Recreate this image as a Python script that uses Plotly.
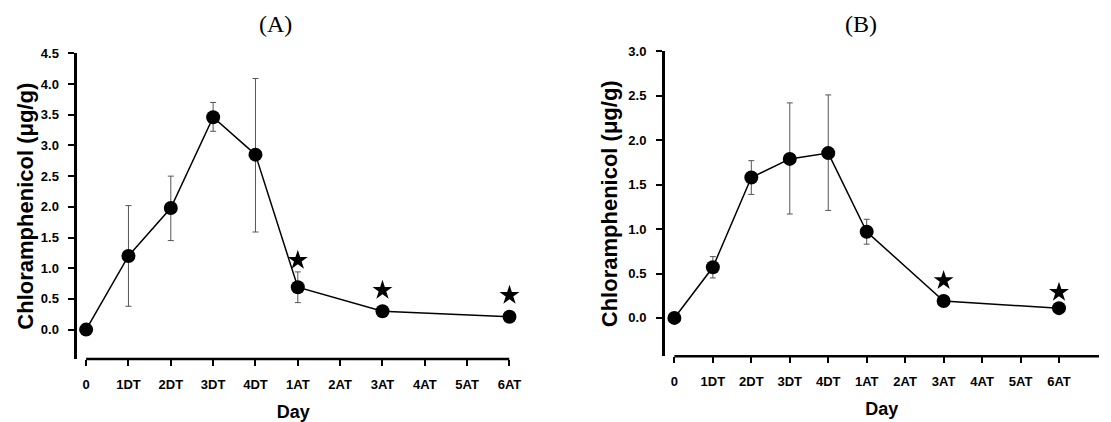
import plotly.graph_objects as go

days = ["0", "1DT", "2DT", "3DT", "4DT", "1AT", "2AT", "3AT", "4AT", "5AT", "6AT"]
tick_pos = list(range(len(days)))

# Panel A
xA = [0, 1, 2, 3, 4, 5, 7, 10]
yA = [0.0, 1.20, 1.98, 3.46, 2.85, 0.69, 0.30, 0.21]
errA_plus = [0.0, 0.82, 0.52, 0.24, 1.24, 0.25, 0.0, 0.0]
errA_minus = [0.0, 0.82, 0.53, 0.23, 1.26, 0.25, 0.0, 0.0]
starA_x = [5, 7, 10]
starA_y = [1.13, 0.64, 0.56]

# Panel B
xB = [0, 1, 2, 3, 4, 5, 7, 10]
yB = [0.0, 0.57, 1.58, 1.79, 1.855, 0.97, 0.19, 0.11]
errB_plus = [0.0, 0.12, 0.19, 0.63, 0.655, 0.14, 0.0, 0.0]
errB_minus = [0.0, 0.12, 0.19, 0.62, 0.645, 0.14, 0.0, 0.0]
starB_x = [7, 10]
starB_y = [0.42, 0.29]

yticksA = [0, 0.5, 1, 1.5, 2, 2.5, 3, 3.5, 4, 4.5]
yticksB = [0, 0.5, 1, 1.5, 2, 2.5, 3]

# page body has an 8px default margin
OFF = 8
W, H = 1111 - OFF, 422 - OFF
def PX(p):
    return (p - OFF) / W
def PY(p):
    return 1 - (p - OFF) / H

fig = go.Figure()

def add_panel(x, y, ep, em, sx, sy, xa, ya):
    fig.add_trace(go.Scatter(
        x=x, y=y, mode="lines+markers",
        line=dict(color="black", width=1.5),
        marker=dict(color="black", size=14),
        error_y=dict(type="data", symmetric=False, array=ep, arrayminus=em,
                     color="#555555", thickness=1, width=3),
        xaxis=xa, yaxis=ya, showlegend=False, cliponaxis=False))
    fig.add_trace(go.Scatter(
        x=sx, y=sy, mode="markers",
        marker=dict(symbol="star", color="black", size=15),
        xaxis=xa, yaxis=ya, showlegend=False, cliponaxis=False))

add_panel(xA, yA, errA_plus, errA_minus, starA_x, starA_y, "x", "y")
add_panel(xB, yB, errB_plus, errB_minus, starB_x, starB_y, "x2", "y2")

fontfam = "Arial, Liberation Sans, sans-serif"
xcommon = dict(tickmode="array", tickvals=tick_pos, ticktext=days,
               showline=False,
               ticks="outside", ticklen=6, tickwidth=2, tickcolor="black",
               showgrid=False, zeroline=False, ticklabelstandoff=7,
               tickfont=dict(family=fontfam, size=13, color="black", weight="bold"),
               title=dict(text="Day", font=dict(family=fontfam, size=18, color="black", weight="bold"),
                          standoff=14))
def ycommon(st):
    return dict(showline=True, linecolor="black", linewidth=2.5,
               ticks="outside", ticklen=6, tickwidth=2, tickcolor="black",
               showgrid=False, zeroline=False, tickformat=".1f", ticklabelstandoff=7,
               tickfont=dict(family=fontfam, size=13, color="black", weight="bold"),
               title=dict(text="Chloramphenicol (\u03bcg/g)",
                          font=dict(family=fontfam, size=22, color="black", weight="bold"),
                          standoff=st))

xrA = [-0.21, 10.0]
xrB = [-0.25, 11.04]

fig.update_layout(
    width=W, height=H,
    margin=dict(l=0, r=0, t=0, b=0),
    paper_bgcolor="white", plot_bgcolor="white",
    xaxis=dict(domain=[PX(78), PX(515)], range=xrA, anchor="y", **xcommon),
    yaxis=dict(domain=[PY(358), PY(47)], range=[-0.48, 4.5], anchor="x",
               tickvals=yticksA, **ycommon(2)),
    xaxis2=dict(domain=[PX(672), 1.0], range=xrB, anchor="y2", **xcommon),
    yaxis2=dict(domain=[PY(355), PY(45)], range=[-0.43, 3.0], anchor="x2",
                tickvals=yticksB, **ycommon(5)),
    shapes=[
        dict(type="line", xref="x", yref="y domain", x0=0, x1=xrA[1], y0=0, y1=0,
             line=dict(color="black", width=2.5)),
        dict(type="line", xref="x2", yref="y2 domain", x0=0, x1=xrB[1], y0=0, y1=0,
             line=dict(color="black", width=2.5)),
    ],
    annotations=[
        dict(text="(A)", x=PX(278), y=PY(17), xref="paper", yref="paper",
             xanchor="center", yanchor="middle",
             showarrow=False, font=dict(family="Liberation Serif, DejaVu Serif, serif", size=24, color="black")),
        dict(text="(B)", x=PX(870), y=PY(17), xref="paper", yref="paper",
             xanchor="center", yanchor="middle",
             showarrow=False, font=dict(family="Liberation Serif, DejaVu Serif, serif", size=24, color="black")),
    ],
)

fig.write_html("out.html")
